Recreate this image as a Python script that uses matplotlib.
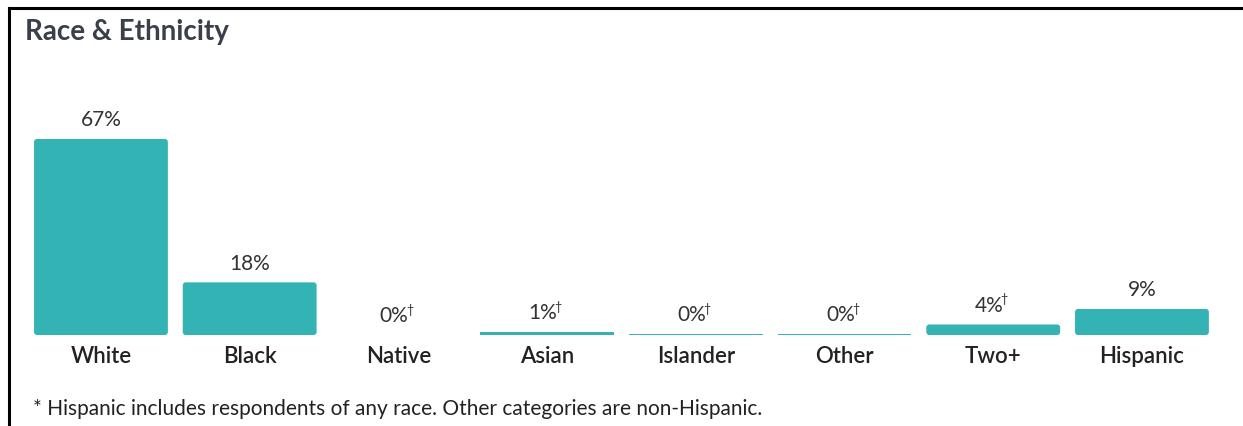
import matplotlib
matplotlib.use("Agg")
import matplotlib.pyplot as plt
from matplotlib.lines import Line2D
from matplotlib.patches import FancyBboxPatch

plt.rcParams['font.family'] = ['Lato', 'DejaVu Sans']

categories = ["White", "Black", "Native", "Asian", "Islander", "Other", "Two+", "Hispanic"]
values = [67, 18, 0, 1, 0.4, 0.4, 3.6, 8.9]
value_labels = ["67%", "18%", "0%", "1%", "0%", "0%", "4%", "9%"]
dagger = [False, False, True, True, True, True, True, False]

title = "Race & Ethnicity"
footnote = "* Hispanic includes respondents of any race. Other categories are non-Hispanic."

W, H = 1243, 427
fig = plt.figure(figsize=(W / 100, H / 100), dpi=100)
fig.patch.set_facecolor("white")

base_y = 336
top_y = 140
ax = fig.add_axes([26.6 / W, 1 - base_y / H, 1189.7 / W, (base_y - top_y) / H])
ax.set_xlim(-0.5, len(categories) - 0.5)
ax.set_ylim(0, 67)
ax.axis("off")

teal = "#33b3b3"
x = list(range(len(categories)))
bars = ax.bar(x, values, width=0.9, color=teal, edgecolor="none")

# rounded corners for taller bars
px_x = 1189.7 / len(categories)      # pixels per x unit
px_y = (base_y - top_y) / 67.0       # pixels per y unit
for b in bars:
    if b.get_height() * px_y > 8:
        r = 3.0 / px_x
        patch = FancyBboxPatch((b.get_x(), b.get_y()), b.get_width(), b.get_height(),
                               boxstyle=f"round,pad=0,rounding_size={r}",
                               mutation_aspect=px_x / px_y,
                               facecolor=teal, edgecolor="none")
        b.set_visible(False)
        ax.add_patch(patch)

fig.canvas.draw()
renderer = fig.canvas.get_renderer()

for i, (v, lab, d) in enumerate(zip(values, value_labels, dagger)):
    dx = -3 if d else 0
    t = ax.annotate(lab, (i, v), xytext=(dx, 7), textcoords="offset points",
                    ha="center", va="bottom", fontsize=15, color="#333333",
                    annotation_clip=False)
    if d:
        bb = t.get_window_extent(renderer)
        x_right = (bb.x1 - ax.transData.transform((i, v))[0]) * 72 / 100
        ax.annotate("\u2020", (i, v), xytext=(x_right - 2.0, 7 + 7.5),
                    textcoords="offset points", ha="left", va="bottom",
                    fontsize=9, color="#333333", annotation_clip=False)
    ax.annotate(categories[i], (i, 0), xytext=(0, -7), textcoords="offset points",
                ha="center", va="top", fontsize=16, color="#222222",
                fontweight="semibold", annotation_clip=False)

fig.text(25 / W, 1 - 32 / H, title, ha="left", va="center", fontsize=20,
         fontweight="bold", color="#3a3f4a")
fig.text(33 / W, 1 - 409 / H, footnote, ha="left", va="center", fontsize=15,
         color="#222222")

# border (top and left)
fig.add_artist(Line2D([9 / W, 1.0], [1 - 9 / H, 1 - 9 / H], color="black", lw=2.2,
                      transform=fig.transFigure))
fig.add_artist(Line2D([9 / W, 9 / W], [1 - 9 / H, 0], color="black", lw=2.2,
                      transform=fig.transFigure))

fig.savefig("out.png", dpi=100)
